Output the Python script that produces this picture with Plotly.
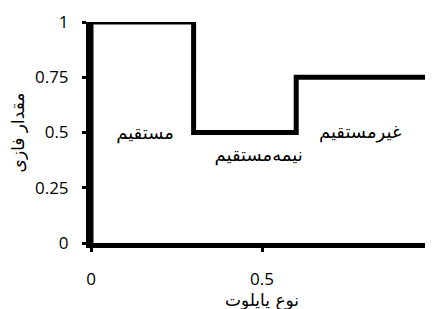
import plotly.graph_objects as go

# step line data
step_x = [0, 0, 0.3, 0.3, 0.6, 0.6, 1.0]
step_y = [0, 1, 1, 0.5, 0.5, 0.75, 0.75]

label_text = ["مستقیم", "نیمه‌مستقیم", "غیرمستقیم"]
label_x = [0.158, 0.49, 0.787]
label_y = [0.49, 0.39, 0.495]

x_ticks = [0, 0.5, 1]
x_ticklabels = ["0", "0.5", "1"]
y_ticks = [0, 0.25, 0.5, 0.75, 1]
y_ticklabels = ["0", "0.25", "0.5", "0.75", "1"]

x_title = "نوع پایلوت"
y_title = "مقدار فازی"

fig = go.Figure()
fig.add_trace(go.Scatter(x=step_x, y=step_y, mode="lines",
                         line=dict(color="black", width=5), cliponaxis=False,
                         showlegend=False, hoverinfo="skip"))
fig.add_trace(go.Scatter(x=label_x, y=label_y, mode="text", text=label_text,
                         textfont=dict(family="DejaVu Sans", size=18, color="black"),
                         showlegend=False, hoverinfo="skip"))

fig.update_layout(
    width=433, height=309,
    margin=dict(l=83, r=8, t=14, b=74),
    paper_bgcolor="white", plot_bgcolor="white",
    font=dict(family="Open Sans", size=17, color="black"),
)
fig.update_xaxes(range=[0, 1], tickvals=x_ticks, ticktext=x_ticklabels, automargin=False,
                 showgrid=False, zeroline=False, showline=True, linecolor="black", linewidth=5,
                 ticks="outside", ticklen=4, tickwidth=3, tickcolor="black",
                 ticklabelstandoff=13,
                 title=dict(text=x_title, font=dict(family="DejaVu Sans", size=17), standoff=0))
fig.update_yaxes(range=[0, 1], tickvals=y_ticks, ticktext=y_ticklabels, automargin=False,
                 showgrid=False, zeroline=False, showline=True, linecolor="black", linewidth=5,
                 ticks="outside", ticklen=4, tickwidth=3, tickcolor="black",
                 ticklabelstandoff=10,
                 title=dict(text=y_title, font=dict(family="DejaVu Sans", size=17), standoff=8))

fig.write_html("out.html")
